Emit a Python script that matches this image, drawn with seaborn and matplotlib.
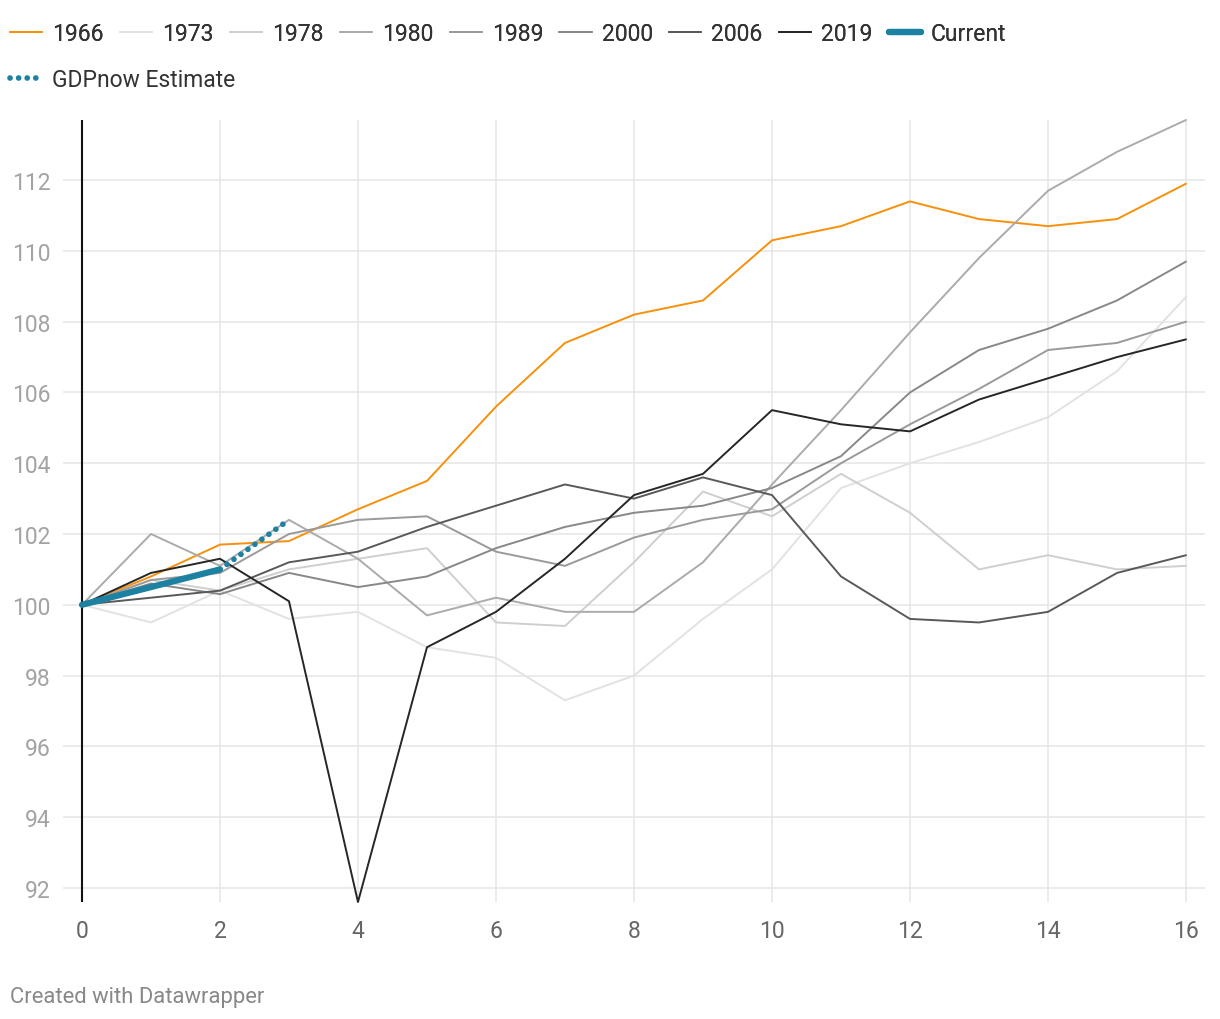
import matplotlib

matplotlib.use('Agg')
import matplotlib.pyplot as plt
import numpy as np
import seaborn as sns

# quarters since the start of each episode, index = 100 at quarter 0
quarters = list(range(17))
y1966 = [100, 100.8, 101.7, 101.8, 102.7, 103.5, 105.6, 107.4, 108.2, 108.6, 110.3, 110.7, 111.4, 110.9, 110.7, 110.9, 111.9]
y1973 = [100, 99.5, 100.4, 99.6, 99.8, 98.8, 98.5, 97.3, 98.0, 99.6, 101.0, 103.3, 104.0, 104.6, 105.3, 106.6, 108.7]
y1978 = [100, 100.7, 100.4, 101.0, 101.3, 101.6, 99.5, 99.4, 101.2, 103.2, 102.5, 103.7, 102.6, 101.0, 101.4, 101.0, 101.1]
y1980 = [100, 102.0, 101.1, 102.4, 101.3, 99.7, 100.2, 99.8, 99.8, 101.2, 103.4, 105.5, 107.7, 109.8, 111.7, 112.8, 113.7]
y1989 = [100, 100.7, 100.9, 102.0, 102.4, 102.5, 101.5, 101.1, 101.9, 102.4, 102.7, 104.0, 105.1, 106.1, 107.2, 107.4, 108.0]
y2000 = [100, 100.6, 100.3, 100.9, 100.5, 100.8, 101.6, 102.2, 102.6, 102.8, 103.3, 104.2, 106.0, 107.2, 107.8, 108.6, 109.7]
y2006 = [100, 100.2, 100.4, 101.2, 101.5, 102.2, 102.8, 103.4, 103.0, 103.6, 103.1, 100.8, 99.6, 99.5, 99.8, 100.9, 101.4]
y2019 = [100, 100.9, 101.3, 100.1, 91.6, 98.8, 99.8, 101.3, 103.1, 103.7, 105.5, 105.1, 104.9, 105.8, 106.4, 107.0, 107.5]

current_q = [0, 1, 2]
current = [100, 100.5, 101.0]
gdpnow_q = [2, 3]
gdpnow = [101.0, 102.4]

series = {
    '1966': (y1966, '#f7900a'),
    '1973': (y1973, '#e2e2e2'),
    '1978': (y1978, '#cfcfcf'),
    '1980': (y1980, '#ababab'),
    '1989': (y1989, '#9a9a9a'),
    '2000': (y2000, '#888888'),
    '2006': (y2006, '#595959'),
    '2019': (y2019, '#262626'),
}
teal = '#1d81a2'

sns.set_theme(style='white')
plt.rcParams['font.family'] = ['Roboto', 'DejaVu Sans']

W, H = 1220, 1020
fig = plt.figure(figsize=(W / 100, H / 100), dpi=100)
ax = fig.add_axes([63 / W, 1 - 903 / H, (1205 - 63) / W, (903 - 121) / H])

for name, (vals, col) in series.items():
    sns.lineplot(x=quarters, y=vals, color=col, lw=1.4, label=name, ax=ax, clip_on=False)

sns.lineplot(x=current_q, y=current, color=teal, lw=4.5, label='Current', ax=ax,
             solid_capstyle='round')
sns.lineplot(x=gdpnow_q, y=gdpnow, color=teal, lw=4.1, label='GDPnow Estimate', ax=ax,
             linestyle=(0, (0.01, 1.5)), dash_capstyle='round')

if ax.get_legend() is not None:
    ax.get_legend().remove()

all_vals = np.concatenate([np.array(v) for v, _ in series.values()])
ax.set_ylim(all_vals.min(), all_vals.max())
ax.set_xlim(-0.275, 16.275)
ax.set_xticks(range(0, 17, 2))
ax.set_yticks(range(92, 113, 2))
ax.grid(True, color='#e5e5e5', lw=1.1)
ax.set_axisbelow(True)
ax.axvline(0, color='#111111', lw=1.5, zorder=1.5)
for s in ax.spines.values():
    s.set_visible(False)
ax.tick_params(axis='both', length=0, labelsize=16.5)
ax.tick_params(axis='y', colors='#a3a3a3', pad=9)
ax.tick_params(axis='x', colors='#666666', pad=12.5)
ax.set_xlabel('')
ax.set_ylabel('')

handles, labels = ax.get_legend_handles_labels()
leg_kw = dict(loc='center left', frameon=False, fontsize=16.5, handlelength=1.4,
              handletextpad=0.45, columnspacing=0.7, borderpad=0, borderaxespad=0,
              labelcolor='#333333')
leg1 = fig.legend(handles[:9], labels[:9], ncol=9, bbox_to_anchor=(10 / W, 1 - 34.5 / H), **leg_kw)
fig.legend(handles[9:], labels[9:], ncol=1, bbox_to_anchor=(10 / W, 1 - 80.5 / H), **leg_kw)
fig.add_artist(leg1)

fig.text(10 / W, 1 - 998 / H, 'Created with Datawrapper', color='#888888', fontsize=15.8, va='center')

plt.savefig('out.png', dpi=100)
plt.close()
